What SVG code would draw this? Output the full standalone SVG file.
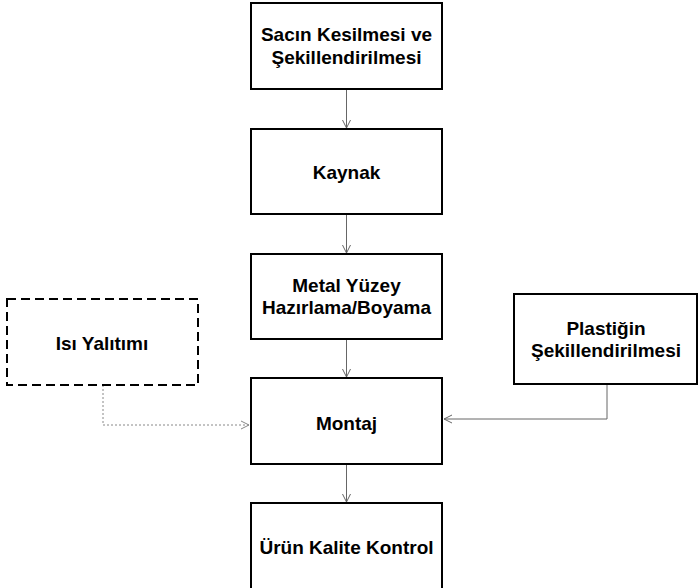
<svg xmlns="http://www.w3.org/2000/svg" width="699" height="588" viewBox="0 0 699 588">
<style>
.box{fill:#fff;stroke:#000;stroke-width:2}
.dbox{fill:#fff;stroke:#000;stroke-width:2;stroke-dasharray:9 5}
.t{font-family:"Liberation Sans",Arial,sans-serif;font-weight:bold;font-size:19px;fill:#000;text-anchor:middle}
.c{fill:none;stroke:#666;stroke-width:1}
.cd{fill:none;stroke:#888;stroke-width:1;stroke-dasharray:2 2}
</style>
<defs>
<marker id="ah" markerWidth="10" markerHeight="10" refX="9" refY="5" orient="auto" markerUnits="userSpaceOnUse">
<path d="M1,1 L9,5 L1,9" fill="none" stroke="#666" stroke-width="1"/>
</marker>
<marker id="ahd" markerWidth="10" markerHeight="10" refX="9" refY="5" orient="auto" markerUnits="userSpaceOnUse">
<path d="M1,1 L9,5 L1,9" fill="none" stroke="#888" stroke-width="1"/>
</marker>
</defs>
<rect width="699" height="588" fill="#fff"/>
<g id="connectors">
<line class="c" x1="346.5" y1="89" x2="346.5" y2="128" marker-end="url(#ah)"/>
<line class="c" x1="346.5" y1="214" x2="346.5" y2="253" marker-end="url(#ah)"/>
<line class="c" x1="346.5" y1="339" x2="346.5" y2="377" marker-end="url(#ah)"/>
<line class="c" x1="346.5" y1="464" x2="346.5" y2="502" marker-end="url(#ah)"/>
<polyline class="cd" points="103,385 103,425 249,425" marker-end="url(#ahd)"/>
<polyline class="c" points="607,384 607,419 444,419" marker-end="url(#ah)"/>
</g>
<g id="n1">
<rect class="box" x="251" y="3" width="191" height="86"/>
<text class="t" x="346.5" y="41">Sacın Kesilmesi ve</text>
<text class="t" x="346.5" y="63.5">Şekillendirilmesi</text>
</g>
<g id="n2">
<rect class="box" x="251" y="129" width="191" height="85"/>
<text class="t" x="346.5" y="179">Kaynak</text>
</g>
<g id="n3">
<rect class="box" x="251" y="254" width="191" height="85"/>
<text class="t" x="346.5" y="292">Metal Yüzey</text>
<text class="t" x="346.5" y="314">Hazırlama/Boyama</text>
</g>
<g id="n4">
<rect class="box" x="251" y="378" width="191" height="86"/>
<text class="t" x="346.5" y="430">Montaj</text>
</g>
<g id="n5">
<rect class="box" x="251" y="503" width="191" height="90"/>
<text class="t" x="346.5" y="554">Ürün Kalite Kontrol</text>
</g>
<g id="n6">
<rect class="dbox" x="7" y="299" width="191" height="86"/>
<text class="t" x="102" y="350">Isı Yalıtımı</text>
</g>
<g id="n7">
<rect class="box" x="514" y="294" width="183" height="90"/>
<text class="t" x="606" y="335">Plastiğin</text>
<text class="t" x="606" y="357">Şekillendirilmesi</text>
</g>
</svg>
